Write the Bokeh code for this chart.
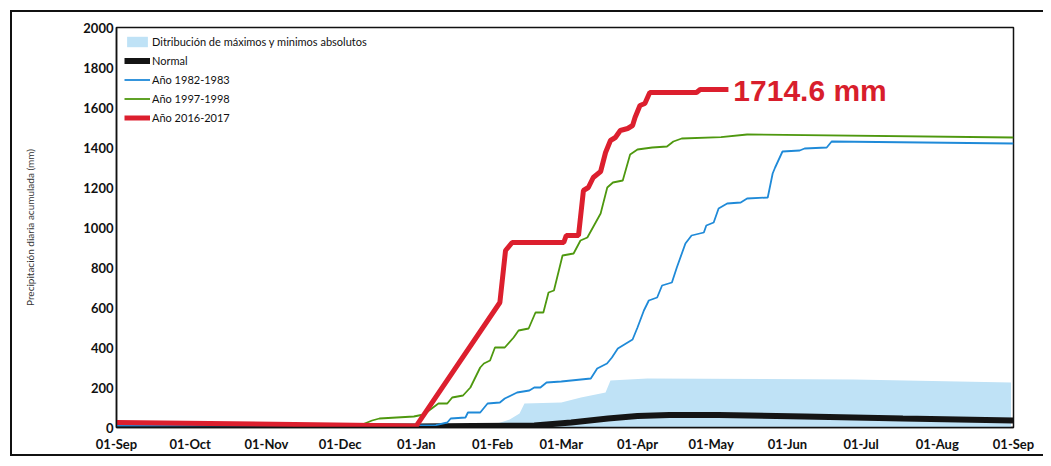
from bokeh.plotting import figure
from bokeh.models import ColumnDataSource, FixedTicker, Range1d
from bokeh.core.properties import value
from bokeh.embed import file_html
from bokeh.resources import INLINE

# ---- data (days since 01-Sep) ----
month_days = [0, 30, 61, 91, 122, 153, 181, 212, 242, 273, 303, 334, 365]
month_labels = ["01-Sep", "01-Oct", "01-Nov", "01-Dec", "01-Jan", "01-Feb", "01-Mar",
                "01-Apr", "01-May", "01-Jun", "01-Jul", "01-Aug", "01-Sep"]
y_ticks = [0, 200, 400, 600, 800, 1000, 1200, 1400, 1600, 1800, 2000]

band_days = [0, 135, 145, 155, 160, 164, 166, 181, 189, 199, 201, 216, 300, 364]
band_max = [0, 0, 8, 20, 40, 70, 120, 125, 150, 175, 235, 245, 240, 225]
band_min = [0, 0, 0, 0, 0, 0, 0, 0, 0, 0, 0, 0, 0, 0]

normal_days = [0, 122, 145, 170, 185, 200, 212, 225, 245, 280, 320, 365]
normal_vals = [8, 5, 8, 10, 25, 45, 58, 62, 62, 55, 45, 35]

y1982_days = [0, 130, 134.6, 136, 142, 143, 148, 151, 156, 158, 163, 168, 170, 172.5, 175,
              181, 193, 195.6, 199.6, 201.6, 204, 208, 210, 212, 214.6, 216.6, 220, 222,
              226, 228, 231.5, 234, 239, 240, 243, 245, 248.5, 254, 256.6, 265, 267, 268,
              271, 278, 280, 289, 291, 365]
y1982_vals = [10, 12, 25, 45, 50, 75, 75, 120, 125, 145, 175, 185, 200, 200, 225,
              230, 245, 295, 320, 350, 395, 425, 440, 500, 585, 635, 650, 710,
              725, 800, 920, 960, 975, 1010, 1025, 1095, 1120, 1125, 1145, 1150, 1270, 1300,
              1380, 1385, 1395, 1400, 1430, 1420]

y1997_days = [0, 100, 104, 107, 121, 125, 131, 134.6, 136.6, 141, 144, 148, 149.5, 152, 154,
              158, 161.6, 163.6, 167.7, 170.5, 173.7, 175.8, 178, 181.5, 186, 188.8, 191.6,
              197, 199.7, 202, 206, 209, 212, 218, 224, 226.6, 230, 246, 256.6, 365]
y1997_vals = [20, 15, 35, 45, 55, 65, 120, 120, 150, 160, 200, 300, 320, 335, 400,
              400, 450, 485, 495, 575, 575, 675, 685, 860, 870, 935, 950,
              1070, 1200, 1225, 1235, 1365, 1390, 1400, 1405, 1430, 1445, 1452, 1465, 1450]

y2016_days = [0, 122, 156, 158.3, 161, 182, 183, 188, 190, 192, 194, 197, 199, 201, 203,
              205, 208, 210, 211, 213, 215, 217, 236, 237.5, 249]
y2016_vals = [25, 8, 625, 885, 925, 925, 960, 960, 1185, 1200, 1250, 1280, 1375, 1435, 1450,
              1485, 1495, 1510, 1550, 1610, 1620, 1675, 1675, 1690, 1690]

anno_day = [251]
anno_val = [1685]
anno_text = ["1714.6 mm"]

FONT = "Lato"

# page frame of the scanned document drawn as CSS background lines behind a transparent canvas
frame_css = {
    "background-color": "white",
    "background-image": ("linear-gradient(#111,#111), linear-gradient(#111,#111), "
                         "linear-gradient(#111,#111)"),
    "background-size": "2px 445px, 1040px 2px, 1040px 2px",
    "background-position": "10px 10px, 10px 10px, 10px 454px",
    "background-repeat": "no-repeat",
}

p = figure(width=1043, height=458, x_range=Range1d(0, 365), y_range=Range1d(0, 2000),
           output_backend="svg", toolbar_location=None,
           min_border_left=116, min_border_right=30, min_border_top=27, min_border_bottom=31,
           styles=frame_css)
p.grid.visible = False
p.outline_line_color = "#111"
p.outline_line_width = 1.5
p.background_fill_color = "white"
p.border_fill_alpha = 0

band_src = ColumnDataSource(dict(x=band_days, top=band_max, bot=band_min))
p.varea(x="x", y1="bot", y2="top", source=band_src, fill_color="#bfe2f6",
        legend_label="Ditribución de máximos y minimos absolutos")
p.line(normal_days, normal_vals, line_color="#141414", line_width=6,
       legend_label="Normal")
p.line(y1982_days, y1982_vals, line_color="#1f8ad8", line_width=1.8,
       legend_label="Año 1982-1983")
p.line(y1997_days, y1997_vals, line_color="#4e980f", line_width=1.8,
       legend_label="Año 1997-1998")
p.line(y2016_days, y2016_vals, line_color="#dc1f2e", line_width=5,
       legend_label="Año 2016-2017")

anno_src = ColumnDataSource(dict(x=anno_day, y=anno_val, t=anno_text))
p.text(x="x", y="y", text="t", source=anno_src, text_color="#d81e2c",
       text_font=value("Liberation Sans"), text_font_style="bold",
       text_font_size="30px", text_baseline="middle", text_align="left")

p.xaxis.ticker = FixedTicker(ticks=month_days)
p.xaxis.major_label_overrides = {d: l for d, l in zip(month_days, month_labels)}
p.yaxis.ticker = FixedTicker(ticks=y_ticks)
for ax in (p.xaxis[0], p.yaxis[0]):
    ax.major_tick_line_color = None
    ax.minor_tick_line_color = None
    ax.major_tick_out = 0
    ax.major_tick_in = 0
    ax.minor_tick_out = 0
    ax.axis_line_color = "#111"
    ax.axis_line_width = 1.5
    ax.major_label_text_font = FONT
    ax.major_label_text_font_style = "bold"
    ax.major_label_text_font_size = "13px"
    ax.major_label_text_color = "#111"
p.xaxis.major_label_standoff = 8
p.yaxis.major_label_standoff = 3

p.yaxis.axis_label = "Precipitación diaria acumulada (mm)"
p.yaxis.axis_label_text_font = FONT
p.yaxis.axis_label_text_font_style = "normal"
p.yaxis.axis_label_text_font_size = "10px"
p.yaxis.axis_label_text_color = "#333"
p.yaxis.axis_label_standoff = 44

lg = p.legend[0]
lg.location = "top_left"
lg.glyph_width = 26
lg.glyph_height = 13
lg.label_height = 13
lg.spacing = 6
lg.padding = 4
lg.margin = 8
lg.label_standoff = 2
lg.border_line_color = None
lg.background_fill_alpha = 0
lg.label_text_font = FONT
lg.label_text_font_size = "11px"
lg.label_text_color = "#111"

open("out.html", "w").write(file_html(p, INLINE))
